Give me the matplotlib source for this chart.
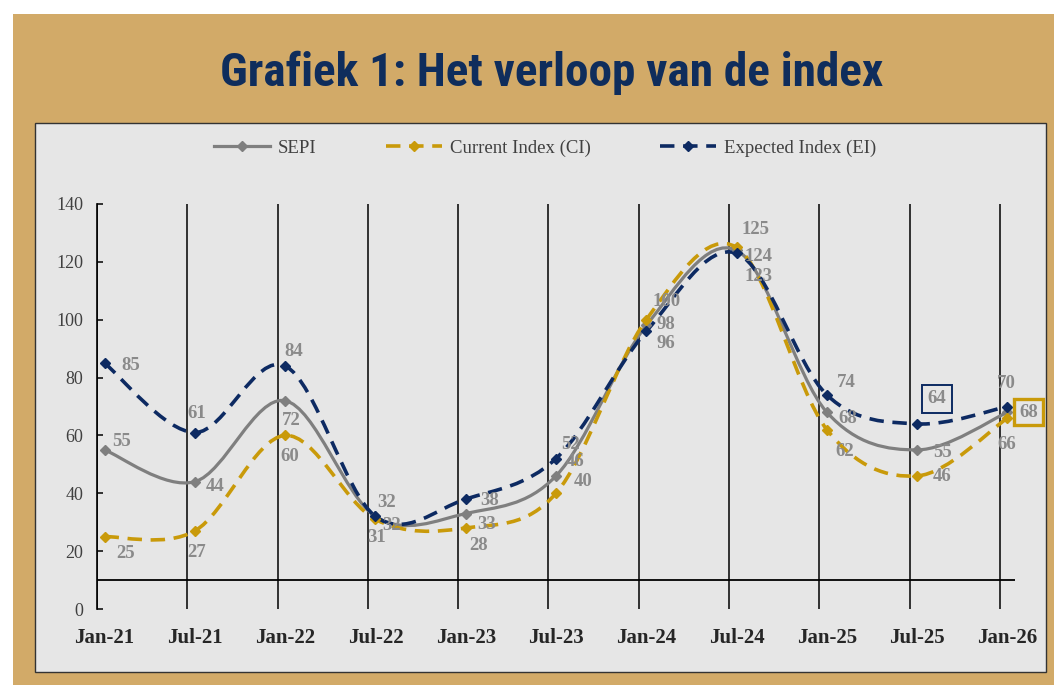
import numpy as np
import matplotlib
matplotlib.use('Agg')
import matplotlib.pyplot as plt
from matplotlib.path import Path
from matplotlib.patches import PathPatch, Rectangle
from matplotlib.lines import Line2D
from matplotlib import font_manager

periods = ['Jan-21', 'Jul-21', 'Jan-22', 'Jul-22', 'Jan-23', 'Jul-23',
           'Jan-24', 'Jul-24', 'Jan-25', 'Jul-25', 'Jan-26']
sepi = [55, 44, 72, 32, 33, 46, 98, 124, 68, 55, 68]
ci = [25, 27, 60, 31, 28, 40, 100, 125, 62, 46, 66]
ei = [85, 61, 84, 32, 38, 52, 96, 123, 74, 64, 70]
yticks = [0, 20, 40, 60, 80, 100, 120, 140]

# label offsets from the marker, in pixels (right, up)
sepi_off = [(17, 8), (20, -5), (6, -20), (16, -9), (21, -11), (19, 14),
            (20, 1), (22, -6), (21, -6), (25, -3), (21, 0)]
ci_off = [(21, -17), (2, -22), (5, -21), (1, -18), (13, -18), (27, 12),
          (20, 18), (19, 18), (18, -22), (25, -1), (-1, -26)]
ei_off = [(26, -2), (2, 19), (9, 14), (11, 14), (24, -1), (14, 14),
          (20, -12), (22, -23), (19, 12), (20, 25), (-1, 23)]

GOLD_BG = '#D2AA68'
PANEL = '#E6E6E6'
GREY = '#7F7F7F'
GOLD = '#C99A0A'
NAVY = '#0D2A62'
LABEL = '#8A8A8A'
SERIF = 'Liberation Serif'


def pick_font(candidates):
    names = {f.name for f in font_manager.fontManager.ttflist}
    for c in candidates:
        if c in names:
            return c
    return 'DejaVu Sans'


def smooth_path(xs, ys):
    pts = np.column_stack([xs, ys]).astype(float)
    n = len(pts)
    verts = [pts[0]]
    codes = [Path.MOVETO]
    for i in range(n - 1):
        p0 = pts[max(i - 1, 0)]
        p1 = pts[i]
        p2 = pts[i + 1]
        p3 = pts[min(i + 2, n - 1)]
        verts += [p1 + (p2 - p0) / 6, p2 - (p3 - p1) / 6, p2]
        codes += [Path.CURVE4] * 3
    return Path(verts, codes)


fig = plt.figure(figsize=(10.54, 6.85), dpi=100)
W, H = 1054, 685

fig.patches.append(Rectangle((13 / W, 0), 1 - 13 / W, 1 - 14 / H,
                             transform=fig.transFigure, facecolor=GOLD_BG,
                             edgecolor='none', zorder=-2))
fig.patches.append(Rectangle((35 / W, 13 / H), (1046 - 35) / W, (672 - 123) / H,
                             transform=fig.transFigure, facecolor=PANEL,
                             edgecolor='#333333', lw=1, zorder=-1))

title_font = pick_font(['Roboto Condensed', 'Liberation Sans Narrow',
                        'DejaVu Sans Condensed', 'Roboto'])
fig.text(552 / W, 1 - 86 / H, 'Grafiek 1: Het verloop van de index',
         ha='center', va='baseline', fontsize=34, fontweight='bold',
         color='#0F2D5C', family=title_font)

ax = fig.add_axes([97 / W, 76 / H, (1015 - 97) / W, (609 - 204) / H])
ax.set_zorder(2)
ax.patch.set_visible(False)
ax.set_xlim(0, 61)
ax.set_ylim(0, 140)
for s in ['top', 'right', 'bottom']:
    ax.spines[s].set_visible(False)
ax.spines['left'].set_linewidth(1.2)

x = np.arange(len(periods)) * 6 + 0.5
for g in range(0, 61, 6):
    ax.axvline(g, color='black', lw=1.1, zorder=1)
ax.axhline(10, color='black', lw=1.3, zorder=1)

ax.set_yticks(yticks)
ax.set_yticklabels([str(v) for v in yticks], family=SERIF, fontsize=13,
                   color='#404040')
ax.tick_params(axis='y', direction='in', length=4, width=1.1, pad=10)
ax.set_xticks(x)
ax.set_xticklabels(periods, family=SERIF, fontsize=15, fontweight='bold',
                   color='#262626')
ax.tick_params(axis='x', length=0, pad=14)

series = [
    (sepi, GREY, '-', sepi_off, 'SEPI'),
    (ci, GOLD, (0, (4, 2.4)), ci_off, 'Current Index (CI)'),
    (ei, NAVY, (0, (4, 2.4)), ei_off, 'Expected Index (EI)'),
]
handles = []
for vals, col, ls, offs, name in series:
    lw = 2.3 if ls == '-' else 2.6
    patch = PathPatch(smooth_path(x, vals), facecolor='none', edgecolor=col,
                      lw=lw, linestyle=ls, capstyle='butt', zorder=3)
    ax.add_patch(patch)
    ax.plot(x, vals, ls='none', marker='D', ms=5, color=col, zorder=4,
            clip_on=False)
    handles.append(Line2D([], [], color=col, lw=lw, ls=ls, marker='D', ms=5))
    for i, (xi, v, (dx, dy)) in enumerate(zip(x, vals, offs)):
        t = ax.annotate(str(v), (xi, v), xytext=(dx * 0.72, dy * 0.72),
                        textcoords='offset points', ha='center', va='center',
                        family=SERIF, fontsize=13.5, fontweight='bold',
                        color=LABEL, zorder=5, annotation_clip=False)
        # two labels are boxed in the reference
        if name.startswith('Expected') and i == 9:
            t.set_bbox(dict(boxstyle='square,pad=0.3', facecolor='none',
                            edgecolor=NAVY, lw=1.4))
        if name == 'SEPI' and i == 10:
            t.set_bbox(dict(boxstyle='square,pad=0.25', facecolor='none',
                            edgecolor=GOLD, lw=2.4))

fig.legend(handles, [s[4] for s in series], loc='center',
           bbox_to_anchor=(0.517, 1 - 148 / H), ncol=3, frameon=False,
           prop={'family': SERIF, 'size': 13.5}, labelcolor='#404040',
           handlelength=3, handletextpad=0.4, columnspacing=3.7)

fig.savefig('out.png', dpi=100)
